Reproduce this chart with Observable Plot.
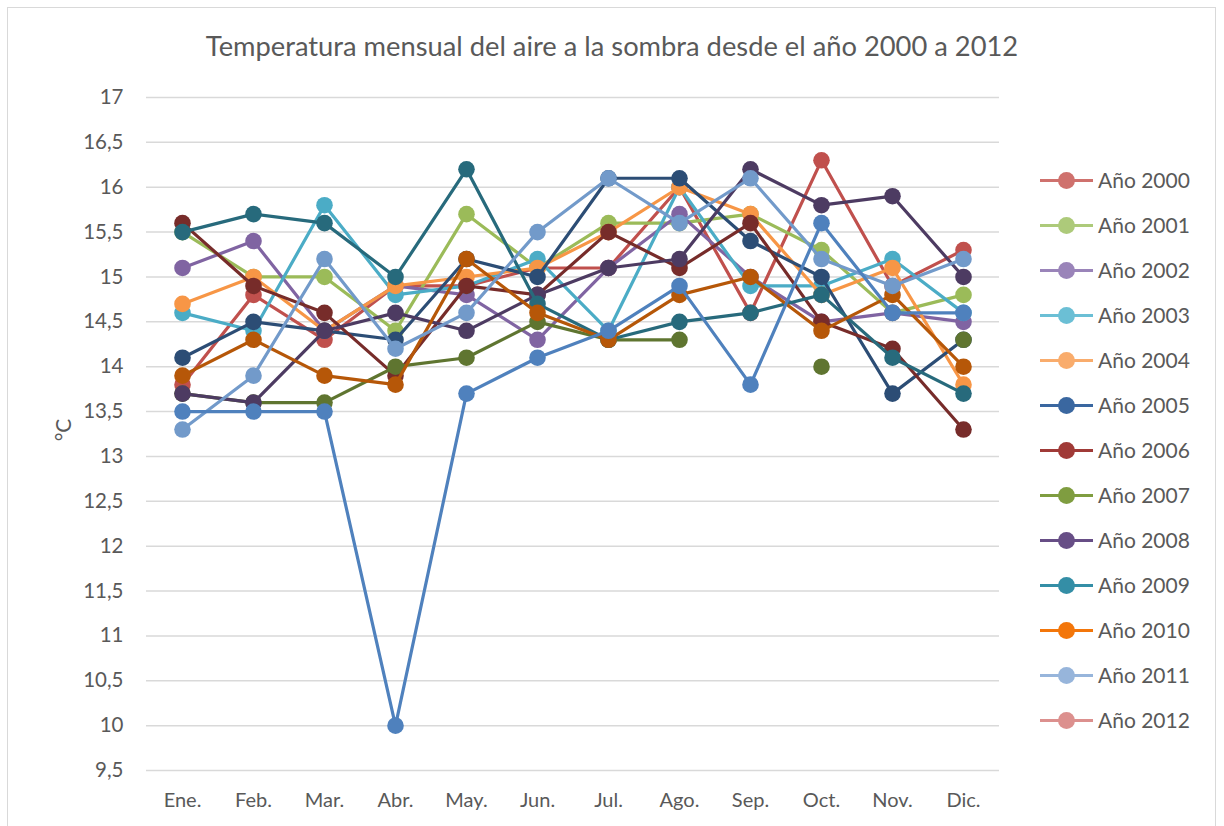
<!DOCTYPE html>
<html>
<head>
<meta charset="utf-8">
<script src="https://cdn.jsdelivr.net/npm/d3@7"></script>
<script src="https://cdn.jsdelivr.net/npm/@observablehq/plot@0.6"></script>
<style>
  html, body { margin: 0; padding: 0; background: #fff; }
  #wrap { position: relative; width: 1224px; height: 826px; overflow: hidden; font-family: Lato, "Open Sans", sans-serif; }
  #frame { position: absolute; left: 7px; top: 7px; width: 1209px; height: 830px; border: 1px solid #D9D9D9; box-sizing: border-box; }
  #title { position: absolute; left: 0; width: 1224px; top: 29px; text-align: center; font-size: 27.3px; color: #595959; white-space: nowrap; }
  #chart { position: absolute; left: 0; top: 0; }
  #ylabel { position: absolute; left: 62px; top: 430px; transform: translate(-50%, -50%) rotate(-90deg); font-size: 21px; color: #595959; white-space: nowrap; }
  #legend { position: absolute; left: 1040px; top: 0; }
  .item { position: absolute; left: 0; height: 24px; width: 180px; transform: translateY(-50%); }
  .item .ln { position: absolute; left: 0; top: 11px; width: 53px; height: 3px; }
  .item .mk { position: absolute; left: 18px; top: 4px; width: 17px; height: 17px; border-radius: 50%; }
  .item .tx { position: absolute; left: 58px; top: 0; font-size: 21px; line-height: 24px; color: #595959; white-space: nowrap; }
</style>
</head>
<body>
<div id="wrap">
  <div id="frame"></div>
  <div id="chart"></div>
  <div id="title">Temperatura mensual del aire a la sombra desde el año 2000 a 2012</div>
  <div id="ylabel">°C</div>
  <div id="legend"></div>
</div>
<script>
// Categories
const months = ["Ene.", "Feb.", "Mar.", "Abr.", "May.", "Jun.", "Jul.", "Ago.", "Sep.", "Oct.", "Nov.", "Dic."];
const seriesNames = ["Año 2000", "Año 2001", "Año 2002", "Año 2003", "Año 2004", "Año 2005", "Año 2006",
                     "Año 2007", "Año 2008", "Año 2009", "Año 2010", "Año 2011", "Año 2012"];
// Series values (°C), null = no data
const y2000 = [13.8, 14.8, 14.3, 14.9, 14.9, 15.1, 15.1, 16.0, 14.6, 16.3, 14.9, 15.3];
const y2001 = [15.5, 15.0, 15.0, 14.4, 15.7, 15.1, 15.6, 15.6, 15.7, 15.3, 14.6, 14.8];
const y2002 = [15.1, 15.4, 14.4, 14.9, 14.8, 14.3, 15.1, 15.7, 15.0, 14.5, 14.6, 14.5];
const y2003 = [14.6, 14.4, 15.8, 14.8, 14.9, 15.2, 14.4, 16.0, 14.9, 14.9, 15.2, 14.6];
const y2004 = [14.7, 15.0, 14.4, 14.9, 15.0, 15.1, 15.5, 16.0, 15.7, 14.8, 15.1, 13.8];
const y2005 = [14.1, 14.5, 14.4, 14.3, 15.2, 15.0, 16.1, 16.1, 15.4, 15.0, 13.7, 14.3];
const y2006 = [15.6, 14.9, 14.6, 13.9, 14.9, 14.8, 15.5, 15.1, 15.6, 14.5, 14.2, 13.3];
const y2007 = [13.7, 13.6, 13.6, 14.0, 14.1, 14.5, 14.3, 14.3, null, 14.0, null, 14.3];
const y2008 = [13.7, 13.6, 14.4, 14.6, 14.4, 14.8, 15.1, 15.2, 16.2, 15.8, 15.9, 15.0];
const y2009 = [15.5, 15.7, 15.6, 15.0, 16.2, 14.7, 14.3, 14.5, 14.6, 14.8, 14.1, 13.7];
const y2010 = [13.9, 14.3, 13.9, 13.8, 15.2, 14.6, 14.3, 14.8, 15.0, 14.4, 14.8, 14.0];
const y2011 = [13.3, 13.9, 15.2, 14.2, 14.6, 15.5, 16.1, 15.6, 16.1, 15.2, 14.9, 15.2];
const y2012 = [13.5, 13.5, 13.5, 10.0, 13.7, 14.1, 14.4, 14.9, 13.8, 15.6, 14.6, 14.6];
// Y tick labels
const yTicks = [9.5, 10, 10.5, 11, 11.5, 12, 12.5, 13, 13.5, 14, 14.5, 15, 15.5, 16, 16.5, 17];

// Styling
const lineColors = ["#C0504D", "#9BBB59", "#8064A2", "#4BACC6", "#F79646", "#2C4D75", "#772C2A",
                    "#5F7530", "#4D3B62", "#276A7C", "#B65708", "#729ACA", "#4F81BD"];
const legendColors = ["#CF716D", "#ADCA7A", "#9A84B9", "#6BBFD5", "#F9AC6C", "#3A67A0", "#A03A37",
                      "#7F9D40", "#674E86", "#348EA6", "#F3760A", "#97B5DB", "#DC908E"];

const allSeries = [y2000, y2001, y2002, y2003, y2004, y2005, y2006, y2007, y2008, y2009, y2010, y2011, y2012];
const data = [];
allSeries.forEach((vals, i) => vals.forEach((v, j) => data.push({serie: seriesNames[i], idx: i, mes: months[j], v: v == null ? NaN : v})));

const fmt = d => String(d).replace(".", ",");

const marks = [
  Plot.gridY(yTicks, {stroke: "#D9D9D9", strokeOpacity: 1, strokeWidth: 1.5}),
  Plot.axisY(yTicks, {tickSize: 0, tickPadding: 23, tickFormat: fmt, fontSize: 20.5, fill: "#595959", label: null}),
  Plot.axisX(months, {tickSize: 0, tickPadding: 22, fontSize: 20, fill: "#595959", label: null})
];
seriesNames.forEach((name, i) => {
  const rows = data.filter(d => d.idx === i);
  marks.push(Plot.line(rows, {x: "mes", y: "v", stroke: lineColors[i], strokeWidth: 3.2, curve: "linear"}));
  marks.push(Plot.dot(rows.filter(d => !isNaN(d.v)), {x: "mes", y: "v", r: 8.3, fill: lineColors[i], stroke: "none"}));
});

const chart = Plot.plot({
  width: 1224,
  height: 826,
  marginLeft: 146,
  marginRight: 225,
  marginTop: 97,
  marginBottom: 56,
  style: {fontFamily: "Lato, 'Open Sans', sans-serif", background: "transparent", overflow: "visible"},
  x: {type: "point", domain: months, padding: 0.5, axis: null},
  y: {domain: [9.5, 17], axis: null},
  marks
});
document.getElementById("chart").appendChild(chart);

// Legend
const legend = document.getElementById("legend");
seriesNames.forEach((name, i) => {
  const it = document.createElement("div");
  it.className = "item";
  it.style.top = (180 + i * 45) + "px";
  it.innerHTML = `<div class="ln" style="background:${legendColors[i]}"></div><div class="mk" style="background:${legendColors[i]}"></div><div class="tx">${name}</div>`;
  legend.appendChild(it);
});
</script>
</body>
</html>
